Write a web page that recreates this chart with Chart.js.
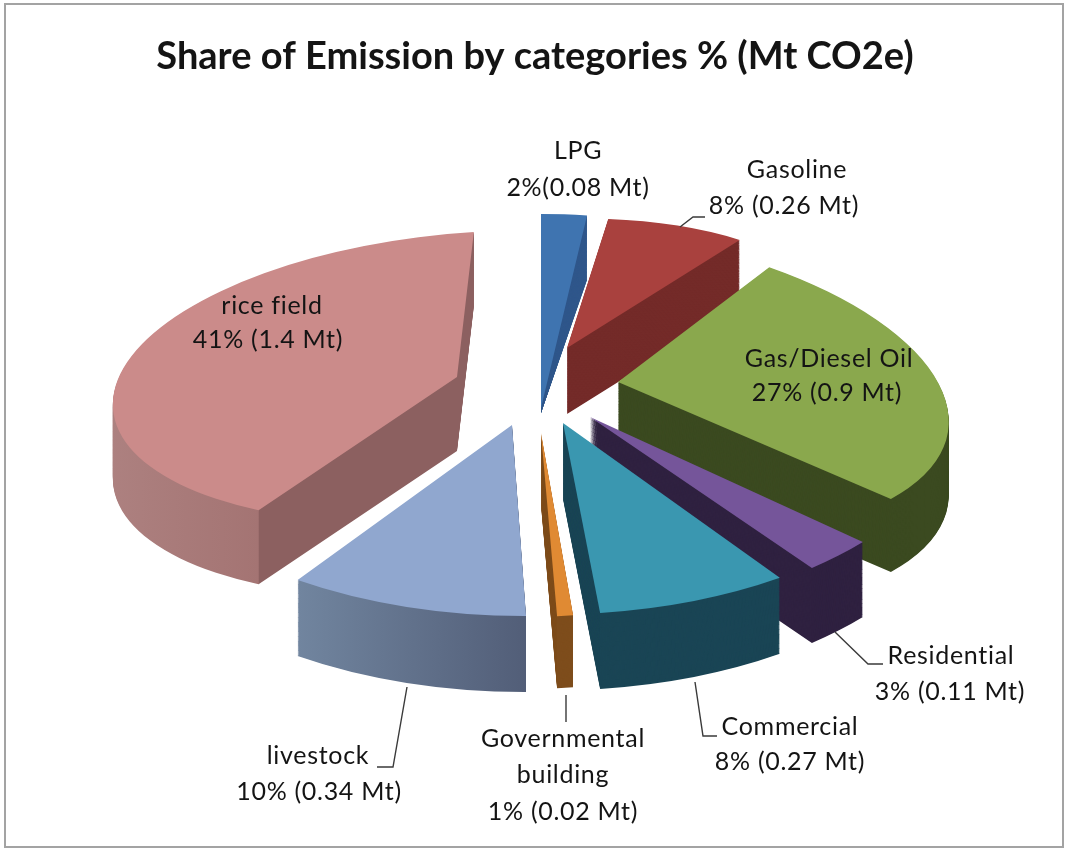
<!DOCTYPE html>
<html lang="en">
<head>
    <meta charset="UTF-8">
    <title>Share of Emission by categories</title>
    <style>
        * { margin: 0; padding: 0; }
        body { background-color: #ffffff; }
        canvas { display: block; }
    </style>
    <script src="https://cdn.jsdelivr.net/npm/chart.js@4/dist/chart.umd.min.js"></script>
</head>
<body>
    <canvas id="emissionChart" width="1066" height="851"></canvas>

    <script>
        // Data
        const categories = ['LPG', 'Gasoline', 'Gas/Diesel Oil', 'Residential', 'Commercial', 'Governmental building', 'livestock', 'rice field'];
        const sharePercent = [2, 8, 27, 3, 8, 1, 10, 41];
        const sliceColors = ['#3f74b0', '#a9413e', '#8aa84d', '#75559a', '#3a97b0', '#e08a33', '#90a7cf', '#cb8b8a'];

        // Label text, one list of lines per slice
        const labelLines = [
            ['LPG', '2%(0.08 Mt)'],
            ['Gasoline', '8% (0.26 Mt)'],
            ['Gas/Diesel Oil', '27% (0.9 Mt)'],
            ['Residential', '3% (0.11 Mt)'],
            ['Commercial', '8% (0.27 Mt)'],
            ['Governmental', 'building', '1% (0.02 Mt)'],
            ['livestock', '10% (0.34 Mt)'],
            ['rice field', '41% (1.4 Mt)']
        ];

        // Layout of the fake 3D view, not data
        const pieRadius = 337;
        // where each slice tip lands and how its circle is flattened: [tipX, tipY, a, b, c, d]
        const sliceViews = [
            [541, 408, 1.09, 0, 0, 0.576],
            [567, 348, 0.85, -0.016, -0.017, 0.384],
            [618, 382, 0.97, 0.15, 0.048, 0.456],
            [590, 417, 1.09, 0.022, -0.036, 0.58],
            [563, 423, 1.14, -0.033, 0, 0.568],
            [541, 433, 0.76, 0, 0, 0.545],
            [512, 425, 1.14, -0.03, 0.033, 0.566],
            [457, 377, 1.02, -0.05, -0.06, 0.43]
        ];
        const sliceDepth = [5, 66, 73, 75, 76, 72, 76, 74];
        const depthTaper = [0.31, 0, 0, 0, 0, 0, 0, 0];
        const drawOrder = [0, 1, 2, 7, 3, 6, 5, 4];
        // side wall colours as stops along the slice's own x axis
        const sideStops = [
            [[0, '#30578b']],
            [[0, '#742b29']],
            [[0, '#3b4a20']],
            [[0, '#2f2140']],
            [[0, '#1a4555']],
            [[0, '#7e4d1c']],
            [[-181, '#71859f'], [21, '#525e78']],
            [[-340, '#ad8180'], [-181, '#a47473'], [-180, '#8c6060'], [0, '#8c6060']]
        ];
        const labelCenters = [
            [[578, 151], [578, 188]],
            [[797, 170], [784, 206]],
            [[829, 359], [827, 393]],
            [[951, 656], [950, 692]],
            [[790, 727], [790, 762]],
            [[563, 739], [563, 775], [563, 812]],
            [[318, 756], [319, 792]],
            [[272, 306], [268, 340]]
        ];
        const leaderLines = [
            [[680, 227], [693, 217], [705, 217]],
            [[835, 632], [868, 664], [883, 664]],
            [[695, 682], [703, 736], [717, 736]],
            [[566, 695], [566, 722]],
            [[407, 687], [393, 767], [377, 767]]
        ];

        const layerCount = 80;

        function placeSlice(ctx, arc, index, t) {
            const v = sliceViews[index];
            const squash = 1 - depthTaper[index] * t;
            ctx.transform(v[2], v[4], v[3], v[5] * squash, v[0], v[1] + sliceDepth[index] * t);
            ctx.translate(-arc.x, -arc.y);
        }

        function sideFill(ctx, arc, index) {
            const stops = sideStops[index];
            if (stops.length === 1) return stops[0][1];
            const first = stops[0][0];
            const last = stops[stops.length - 1][0];
            const gradient = ctx.createLinearGradient(arc.x + first, 0, arc.x + last, 0);
            stops.forEach(s => gradient.addColorStop((s[0] - first) / (last - first), s[1]));
            return gradient;
        }

        const pie3d = {
            id: 'pie3d',
            beforeDatasetsDraw(chart) {
                const ctx = chart.ctx;
                const arcs = chart.getDatasetMeta(0).data;
                drawOrder.forEach(i => {
                    const arc = arcs[i];
                    const faceOptions = arc.options;
                    // side wall: the same arc stacked downwards
                    arc.options = {
                        backgroundColor: sideFill(ctx, arc, i),
                        borderColor: 'transparent',
                        borderWidth: 0,
                        borderAlign: 'center',
                        offset: 0,
                        spacing: 0,
                        circular: true
                    };
                    for (let layer = layerCount; layer > 0; layer--) {
                        ctx.save();
                        placeSlice(ctx, arc, i, layer / layerCount);
                        arc.draw(ctx);
                        ctx.restore();
                    }
                    arc.options = faceOptions;
                    ctx.save();
                    placeSlice(ctx, arc, i, 0);
                    arc.draw(ctx);
                    ctx.restore();
                });
                return false;
            },
            beforeDraw(chart) {
                const ctx = chart.ctx;
                ctx.save();
                ctx.strokeStyle = '#a3a3a3';
                ctx.lineWidth = 2;
                ctx.strokeRect(5, 4, 1058, 843);
                ctx.restore();
            },
            afterDraw(chart) {
                const ctx = chart.ctx;
                ctx.save();
                ctx.strokeStyle = '#3a3a3a';
                ctx.lineWidth = 1.4;
                leaderLines.forEach(line => {
                    ctx.beginPath();
                    line.forEach((p, i) => i ? ctx.lineTo(p[0], p[1]) : ctx.moveTo(p[0], p[1]));
                    ctx.stroke();
                });
                ctx.fillStyle = '#141414';
                ctx.font = '25px Lato';
                ctx.letterSpacing = '0.7px';
                ctx.textAlign = 'center';
                ctx.textBaseline = 'middle';
                labelLines.forEach((lines, i) => {
                    lines.forEach((text, j) => {
                        ctx.fillText(text, labelCenters[i][j][0], labelCenters[i][j][1]);
                    });
                });
                ctx.restore();
            }
        };

        new Chart(document.getElementById('emissionChart'), {
            type: 'pie',
            data: {
                labels: categories,
                datasets: [{
                    data: sharePercent,
                    backgroundColor: sliceColors,
                    borderWidth: 0,
                    radius: pieRadius
                }]
            },
            options: {
                responsive: false,
                animation: false,
                layout: { padding: { left: 4 } },
                plugins: {
                    legend: { display: false },
                    tooltip: { enabled: false },
                    title: {
                        display: true,
                        text: 'Share of Emission by categories % (Mt CO2e)',
                        color: '#141414',
                        font: { family: 'Lato', size: 38, weight: 'bold' },
                        padding: { top: 34, bottom: 10 }
                    }
                }
            },
            plugins: [pie3d]
        });
    </script>
</body>
</html>
